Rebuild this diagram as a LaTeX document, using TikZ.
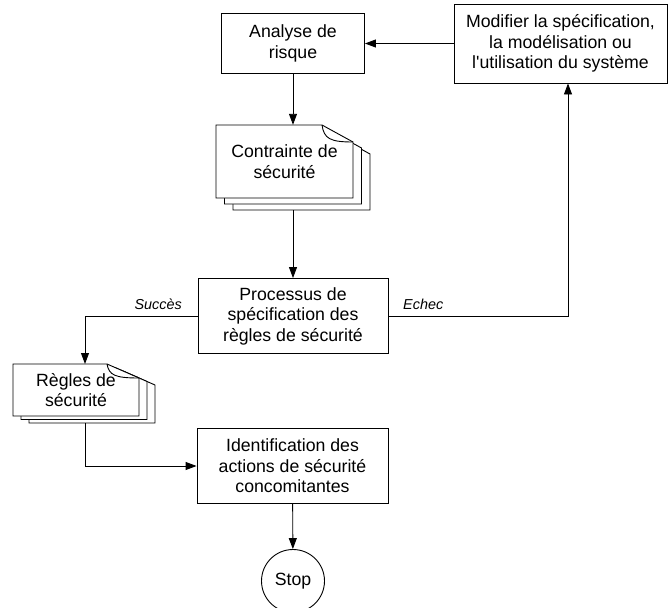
\documentclass[tikz,border=0pt]{standalone}
\usepackage{fontspec}
\setmainfont{Liberation Sans}[Ligatures=TeXOff]
\usetikzlibrary{arrows.meta}

\tikzset{
  page/.style={draw, fill=white, line width=0.9pt, line join=miter},
  boite/.style={draw, line width=0.9pt, align=center, inner sep=0pt,
    font=\fontsize{17.7}{20.5}\selectfont},
  texte/.style={align=center, inner sep=0pt, font=\fontsize{17.7}{20.5}\selectfont},
  etiq/.style={inner sep=0pt, font=\fontsize{14.4}{16}\selectfont\itshape},
  fleche/.style={line width=0.9pt, -{Triangle[length=11pt,width=8pt]}},
}

% feuille avec coin coupe : x1 y1 x2 y2 dx dy
\newcommand{\feuille}[6]{%
  \filldraw[page] (#1,#2) -- (#3-#5,#2) -- (#3,#2+#6) -- (#3,#4) -- (#1,#4) -- cycle;}
% coin replie
\newcommand{\pli}[6]{%
  \draw[page, fill=none] (#3-#5,#2) .. controls (#3-#5+2,#2+#6*0.8) and (#3-#5+8,#2+#6) .. (#3,#2+#6);}

\begin{document}
\begin{tikzpicture}[x=1pt, y=-1pt]
  \useasboundingbox (0,0) rectangle (670,608);

  % documents empiles
  \foreach \k in {2,1,0}
    \feuille{216+8.5*\k}{125+6*\k}{353+8.5*\k}{198+6*\k}{31}{17};
  \pli{216}{125}{353}{198}{31}{17}
  \foreach \k in {2,1,0}
    \feuille{13+8*\k}{364+3.5*\k}{139+8*\k}{416+3.5*\k}{32}{14};
  \pli{13}{364}{139}{416}{32}{14}

  \node[boite, minimum width=143, minimum height=60] (risque) at (293,43.5) {Analyse de\\risque};
  \node[boite, minimum width=213, minimum height=79] (modif) at (560.5,43.5)
    {Modifier la spécification,\\la modélisation ou\\l'utilisation du système};
  \node[texte, minimum width=137, minimum height=73] (contr) at (284.5,161.5) {Contrainte de\\sécurité};
  \node[boite, minimum width=190, minimum height=75] (proc) at (293,316)
    {Processus de\\spécification des\\règles de sécurité};
  \node[texte, minimum width=126, minimum height=52] (regles) at (76,390) {Règles de\\sécurité};
  \node[boite, minimum width=191, minimum height=75] (ident) at (292.5,466)
    {Identification des\\actions de sécurité\\concomitantes};
  \node[boite, circle, minimum size=63] (stop) at (293,581) {Stop};

  \node[etiq, anchor=east] (succes) at (182,304) {Succès};
  \node[etiq, anchor=west] (echec) at (403,304) {Echec};

  \coordinate (contrbas) at (293,210);
  \coordinate (reglesin) at (85,364);
  \coordinate (reglesbas) at (85,423);

  \draw[fleche] (risque) -- (risque |- contr.north);
  \draw[fleche] (contrbas) -- (proc);
  \draw[fleche] (proc.west) -| (reglesin);
  \draw[fleche] (proc.east) -| ([xshift=7.5pt]modif.south);
  \draw[fleche] (modif) -- (risque);
  \draw[fleche] (reglesbas) |- (ident);
  \draw[fleche] (ident) -- (stop);
\end{tikzpicture}
\end{document}
